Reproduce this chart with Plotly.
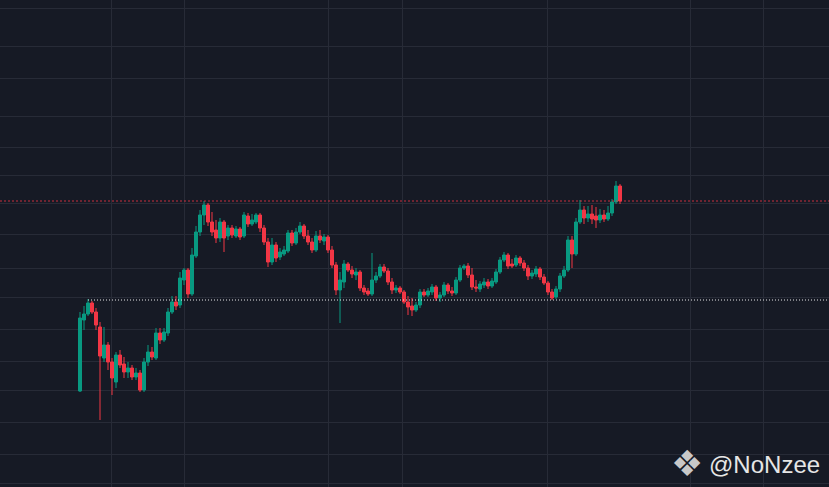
import plotly.graph_objects as go

# Price scale is arbitrary (no axis labels in the reference)
open_ = [109,180,186,197,188,173,142,155,138,118,145,136,128,132,123,127,110,138,148,142,
         167,160,167,188,198,195,220,230,206,244,268,285,295,278,270,262,278,264,272,264,
         271,264,284,276,278,285,272,258,238,255,243,246,249,267,257,268,274,264,258,250,
         264,259,263,250,235,210,218,236,230,225,228,212,209,206,220,224,233,229,218,210,
         212,208,198,194,190,195,208,205,208,213,202,205,215,209,207,220,232,234,225,213,
         211,215,218,214,218,228,240,245,236,235,242,237,232,224,226,231,223,217,208,203,
         211,224,230,260,246,278,290,282,286,284,280,285,281,287,298,314]
high = [188,194,201,199,192,178,173,158,142,148,150,143,138,135,132,130,142,155,153,172,
        172,172,192,204,204,228,232,232,252,274,290,299,297,288,280,282,280,275,275,274,
        273,288,287,286,287,287,275,262,262,258,252,254,270,270,272,278,276,270,262,269,
        270,266,265,254,238,228,240,238,234,232,230,215,212,247,228,236,236,232,222,215,
        214,210,204,202,198,211,211,212,216,215,208,218,217,213,223,235,236,237,232,220,
        219,222,221,222,231,243,248,247,241,245,244,240,235,230,234,233,226,219,211,214,
        227,234,264,264,282,300,294,294,295,293,291,290,294,301,319,316]
low = [108,170,184,186,170,80,138,130,105,112,132,122,122,120,120,108,108,134,140,140,
       156,158,164,186,190,192,215,202,204,242,264,275,274,264,257,258,248,260,262,262,
       260,262,273,274,276,268,255,233,235,238,240,244,247,254,255,266,261,255,247,248,
       257,255,247,232,205,177,212,228,222,220,209,205,204,204,217,222,227,215,206,207,
       206,196,185,184,188,192,203,203,205,199,198,203,206,204,205,218,230,222,210,208,
       208,212,211,212,216,226,238,231,232,233,234,229,220,221,223,220,215,205,200,201,
       208,222,228,232,244,276,276,278,276,272,277,278,279,284,296,296]
close = [182,186,197,188,175,144,155,138,122,145,135,128,132,123,127,110,138,148,143,167,
         160,168,188,198,194,222,230,206,245,268,285,295,278,268,262,278,262,272,265,271,
         263,285,276,280,285,272,258,238,255,242,248,250,267,257,268,274,264,258,250,264,
         260,263,250,235,210,220,236,230,226,228,212,208,206,220,224,233,229,218,210,212,
         208,198,193,190,195,208,205,209,213,202,205,215,209,207,220,232,234,225,213,212,
         216,218,214,219,228,240,245,234,234,242,237,232,224,227,231,223,217,208,202,211,
         224,230,260,246,278,290,282,286,281,280,285,281,287,298,314,299]

candle_index = list(range(len(close)))
support_level = 200
last_price = close[-1]

grid_x = [7.75, 26, 62, 80.5, 116.75, 152.5, 170.75]
grid_y = [492, 454, 422, 384, 353, 325, 297, 266, 232, 203, 171, 139, 110, 78, 46, 17]

BG = "#161A25"
GRID = "#272B37"
UP = "#089981"
DOWN = "#F23645"

fig = go.Figure()

fig.add_trace(go.Scatter(
    x=[-30, 250], y=[last_price, last_price], mode="lines",
    line=dict(color="rgba(242,54,69,0.8)", width=1, dash="2px,2px"),
    hoverinfo="skip", showlegend=False))
fig.add_trace(go.Scatter(
    x=[2, 250], y=[support_level, support_level], mode="lines",
    line=dict(color="rgba(255,255,255,0.9)", width=1, dash="1px,2px"),
    hoverinfo="skip", showlegend=False))

fig.add_trace(go.Candlestick(
    x=candle_index, open=open_, high=high, low=low, close=close,
    increasing=dict(line=dict(color=UP, width=1), fillcolor=UP),
    decreasing=dict(line=dict(color=DOWN, width=1), fillcolor=DOWN),
    showlegend=False))

fig.add_annotation(xref="paper", yref="paper", x=705/829, y=1 - 463/487,
                   xanchor="right", yanchor="middle", text="❖", showarrow=False,
                   font=dict(family="DejaVu Sans", size=36, color="#C8C8C8"))
fig.add_annotation(xref="paper", yref="paper", x=822/829, y=1 - 464/487,
                   xanchor="right", yanchor="middle", text="@NoNzee", showarrow=False,
                   font=dict(family="Liberation Sans, Arial", size=24, color="#E6E6E6"))

fig.update_layout(
    width=829, height=487, margin=dict(l=0, r=0, t=0, b=0),
    paper_bgcolor=BG, plot_bgcolor=BG,
    boxgap=0.25, boxgroupgap=0,
    xaxis=dict(range=[-20, 187.25], tickvals=grid_x, showticklabels=False, ticks="",
               showgrid=True, gridcolor=GRID, gridwidth=1, zeroline=False, showline=False,
               rangeslider=dict(visible=False)),
    yaxis=dict(range=[13, 500], tickvals=grid_y, showticklabels=False, ticks="",
               showgrid=True, gridcolor=GRID, gridwidth=1, zeroline=False, showline=False),
    hovermode=False,
)

fig.write_html("out.html", config={"displayModeBar": False},
               post_script="document.body.style.margin='0';document.body.style.background='#161A25';")
